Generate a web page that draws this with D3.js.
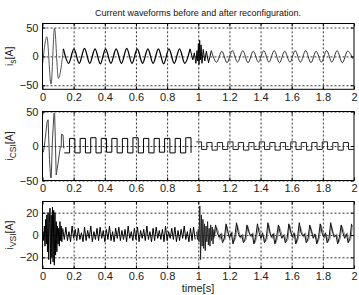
<!DOCTYPE html>
<html>
<head>
<meta charset="utf-8">
<script src="https://cdn.jsdelivr.net/npm/d3@7/dist/d3.min.js"></script>
<style>
  body { margin: 0; background: #fff; }
  svg { display: block; font-family: "Liberation Sans", Arial, sans-serif; }
  .tick text { fill: #222; font-size: 11px; }
</style>
</head>
<body>
<div id="chart"></div>
<script>
// ---- data ----
const title = "Current waveforms before and after reconfiguration.";
const xTicks = [0, 0.2, 0.4, 0.6, 0.8, 1, 1.2, 1.4, 1.6, 1.8, 2];
const xTickLabels = ["0", "0.2", "0.4", "0.6", "0.8", "1", "1.2", "1.4", "1.6", "1.8", "2"];

// i_s : start-up swing, steady peaks/troughs before and after t = 1 s
const isStart = [[0, -15], [0.028, 34], [0.055, -48], [0.077, 49], [0.102, -38], [0.134, 13]];
const isBefore = [13, -12, 13, -12, 14, -12, 13, -13, 13, -12, 13, -12, 14, -12, 13, -12, 13, -12, 13, -13, 13, -12, 13, -12, 13];
const isJump = [[0.948, 13], [0.965, -6], [0.975, 6], [0.985, -12], [0.992, 10], [0.997, -8], [1.001, 22], [1.005, -14],
  [1.009, 28], [1.013, -6], [1.018, 20], [1.024, -12], [1.032, 12], [1.042, -8], [1.052, 9], [1.066, -11], [1.084, 10]];
const isAfter = [10, -10, 9, -11, 10, -10, 10, -11, 9, -10, 10, -10, 10, -11, 9, -10, 10, -10, 10, -11, 9, -10, 10, -10, 10, -11, 9, -4];

// i_CSI : start-up swing, then square-wave plateaus
const csiStart = [[0, -4], [0.004, -9], [0.008, -6], [0.016, 8], [0.03, 36], [0.036, 38], [0.045, -20], [0.052, -46], [0.056, -46],
  [0.064, 10], [0.074, 48], [0.078, 47], [0.088, -42], [0.1, -25], [0.114, -2], [0.12, -2], [0.122, 17], [0.132, 16], [0.136, -3], [0.14, -3]];
const csiBefore = [-10, 11, -10, 11, -10, 12, -10, 11, -9, 11, -10, 11, -10, 12, -10, 11, -10, 11, -9, 11, -10, 11, -10, 12, -10];
const csiAfter = [6, -5, 5, -6, 5, -5, 6, -5, 5, -6, 5, -5, 6, -5, 5, -6, 5, -5, 6, -5, 5, -6, 5, -5, 6, -5, 5, -6, 5, -5, -5];

// i_VSI : start-up bursts, switching ripple band, jump at t = 1 s, after-wave (black and grey traces)
const vsiStart = [0, 3, -5, 8, -10, 14, -8, 18, -15, 20, -22, 10, 24, -26, 18, -20, 25, -24, 22, -27, 20, -18, 12, -15, 8, -8, 6, -10, 12, -5, 8, -6, 5];
const vsiBand = [6, -4, 7, -5, 3, -6, 8, -3, 5, -5, 6, -4, 2, -6, 7, -5, 4, -3, 8, -6, 3, -4, 6, -5, 7, -3, 4, -6, 5, -4, 8, -5, 3, -6, 6, -3, 7, -5, 4, -4,
  5, -6, 8, -3, 3, -5, 6, -4, 7, -6, 4, -3, 5, -5, 8, -4, 3, -6, 6, -5, 7, -3, 4, -4, 5, -6, 8, -5, 3, -3, 6, -4, 7, -6, 4, -5, 5, -3, 8, -4, 3, -6, 6, -5, 7, -4];
const vsiJump = [3, -4, 5, -6, 26, -22, 18, -10, 14, -12, 10, -14, 8, -6, 12, -9, 6, -10, 9, -5, 7, -8, 5];
const vsiAfter = [-3, 9, 2, -2, 1, -7, -3, 10, 3, -3, 2, -8, -2, 11, 2, -2, 0, -7, -3, 9, 3, -1, 1, -8, -2, 10, 2, -3, 2, -7, -3, 11, 3, -2, 1, -8,
  -2, 9, 2, -3, 0, -7, -3, 10, 3, -2, 2, -8, -2, 11, 2, -1, 1, -7, -3, 9, 3, -3, 1, -8, -2, 10, 2, -2, 2, -7, -3, 11, 3, -2, 0, -8, -2, 9, 2, -3, 1, -7, -3, 10];
const vsiAfterGrey = [-1, 7, 4, -4, 2, -5, -4, 8, 1, -1, 3, -6, -3, 9, 3, -3, 1, -6, -4, 8, 2, -2, 2, -7, -3, 7, 4, -2, 0, -6, -4, 9, 1, -3, 2, -7,
  -3, 8, 3, -2, 1, -6, -4, 9, 2, -3, 1, -7, -3, 8, 3, -2, 2, -6, -4, 7, 2, -2, 0, -7, -3, 9, 3, -3, 1, -6, -4, 8, 2, -1, 1, -7, -3, 8, 3, -2, 2, -6, -4, 9];

// sampled series: value i sits at t0 + i*dt
const sampled = (t0, dt, vals) => vals.map((v, i) => [t0 + i * dt, v]);

const width = 359, height = 295;
const xLeft = 42.5, xRight = 354;

const panels = [
  { top: 23.5, bottom: 89.3, domain: [-57, 57], yTicks: [-50, 0, 50], main: "i", sub: "s",
    series: [
      { pts: isStart, curve: d3.curveMonotoneX, color: "#555", w: 1 },
      { pts: sampled(0.134, 0.0339, isBefore), curve: d3.curveMonotoneX, color: "#000", w: 1.3 },
      { pts: isJump, curve: d3.curveLinear, color: "#000", w: 1 },
      { pts: sampled(1.084, 0.03365, isAfter), curve: d3.curveMonotoneX, color: "#333", w: 1 }
    ] },
  { top: 111.5, bottom: 180.5, domain: [-50, 50], yTicks: [-50, 0, 50], main: "i", sub: "CSI",
    series: [
      { pts: csiStart, curve: d3.curveLinear, color: "#444", w: 1 },
      { pts: sampled(0.14, 0.0339, csiBefore), curve: d3.curveStepAfter, color: "#000", w: 1 },
      { pts: sampled(0.9875, 0.0337, csiAfter), curve: d3.curveStepAfter, color: "#222", w: 1 }
    ] },
  { top: 201.5, bottom: 268.5, domain: [-30, 30], yTicks: [-20, 0, 20], main: "i", sub: "VSI",
    series: [
      { pts: sampled(0, 0.004, vsiStart), curve: d3.curveLinear, color: "#000", w: 1 },
      { pts: sampled(0.13, 0.01, vsiBand), curve: d3.curveLinear, color: "#000", w: 1 },
      { pts: sampled(0.99, 0.005, vsiJump), curve: d3.curveLinear, color: "#222", w: 1 },
      { pts: sampled(1.1056, 0.0112, vsiAfterGrey), curve: d3.curveLinear, color: "#888", w: 1 },
      { pts: sampled(1.1, 0.0112, vsiAfter), curve: d3.curveLinear, color: "#111", w: 1 }
    ] }
];

const svg = d3.select("#chart")
  .append("svg")
  .attr("width", width)
  .attr("height", height);

const x = d3.scaleLinear().domain([0, 2]).range([xLeft, xRight]);

svg.append("text")
  .attr("x", 198)
  .attr("y", 15.5)
  .attr("text-anchor", "middle")
  .attr("font-size", 8.5)
  .attr("fill", "#111")
  .attr("textLength", 206)
  .attr("lengthAdjust", "spacingAndGlyphs")
  .text(title);

panels.forEach((p, k) => {
  const y = d3.scaleLinear().domain(p.domain).range([p.bottom, p.top]);
  const g = svg.append("g");
  const h = p.bottom - p.top;

  g.append("clipPath").attr("id", "clip" + k)
    .append("rect")
    .attr("x", xLeft).attr("y", p.top)
    .attr("width", xRight - xLeft).attr("height", h);

  // dotted grid
  g.append("g")
    .attr("transform", `translate(0,${p.bottom})`)
    .call(d3.axisBottom(x).tickValues(xTicks.slice(1, -1)).tickSize(-h).tickFormat(""))
    .call(s => s.select(".domain").remove())
    .selectAll("line").attr("stroke", "#000").attr("stroke-width", 0.8).attr("stroke-dasharray", "2,2");
  g.append("g")
    .attr("transform", `translate(${xLeft},0)`)
    .call(d3.axisLeft(y).tickValues(p.yTicks).tickSize(-(xRight - xLeft)).tickFormat(""))
    .call(s => s.select(".domain").remove())
    .selectAll("line").attr("stroke", "#000").attr("stroke-width", 0.8).attr("stroke-dasharray", "2,2");

  // traces
  const plot = g.append("g").attr("clip-path", `url(#clip${k})`);
  p.series.forEach(s => {
    plot.append("path")
      .datum(s.pts)
      .attr("fill", "none")
      .attr("stroke", s.color)
      .attr("stroke-width", s.w)
      .attr("stroke-linejoin", "round")
      .attr("d", d3.line().x(d => x(d[0])).y(d => y(d[1])).curve(s.curve));
  });

  // frame
  g.append("rect")
    .attr("x", xLeft).attr("y", p.top)
    .attr("width", xRight - xLeft).attr("height", h)
    .attr("fill", "none").attr("stroke", "#000").attr("stroke-width", 1);

  // axes with inside ticks
  g.append("g")
    .attr("transform", `translate(0,${p.bottom})`)
    .call(d3.axisBottom(x).tickValues(xTicks).tickFormat((d, i) => xTickLabels[i]).tickSize(-3).tickPadding(4))
    .call(s => s.select(".domain").remove());
  g.append("g")
    .attr("transform", `translate(0,${p.top})`)
    .call(d3.axisTop(x).tickValues(xTicks).tickFormat("").tickSize(-3))
    .call(s => s.select(".domain").remove());
  g.append("g")
    .attr("transform", `translate(${xLeft},0)`)
    .call(d3.axisLeft(y).tickValues(p.yTicks).tickSize(-3).tickPadding(4))
    .call(s => s.select(".domain").remove());
  g.append("g")
    .attr("transform", `translate(${xRight},0)`)
    .call(d3.axisRight(y).tickValues(p.yTicks).tickFormat("").tickSize(-3))
    .call(s => s.select(".domain").remove());

  // y label
  const lbl = g.append("text")
    .attr("transform", `translate(13,${(p.top + p.bottom) / 2}) rotate(-90)`)
    .attr("text-anchor", "middle")
    .attr("font-size", 10.5)
    .attr("fill", "#222");
  lbl.append("tspan").text(p.main);
  lbl.append("tspan").attr("dy", 3).attr("font-size", 8.5).text(p.sub);
  lbl.append("tspan").attr("dy", -3).text("[A]");
});

svg.append("text")
  .attr("x", 198)
  .attr("y", 292)
  .attr("text-anchor", "middle")
  .attr("font-size", 11)
  .attr("fill", "#222")
  .text("time[s]");
</script>
</body>
</html>
